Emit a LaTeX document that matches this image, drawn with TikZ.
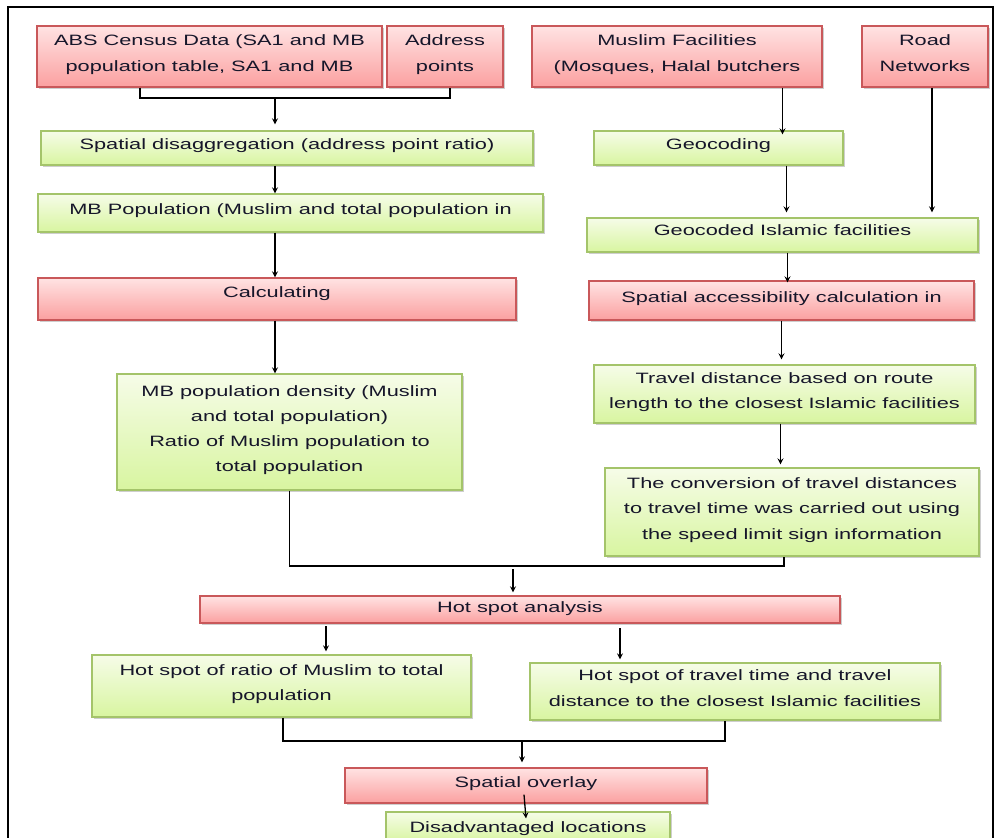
\documentclass[tikz,border=0pt]{standalone}
\usepackage{fontspec}
\setmainfont{Liberation Sans}[FakeStretch=1.45]
\usetikzlibrary{calc, shadows}
\newlength\px
\setlength\px{0.75pt}
\definecolor{redtop}{HTML}{FFE3E3}
\definecolor{redbot}{HTML}{FBA0A0}
\definecolor{redline}{HTML}{C9585A}
\definecolor{greentop}{HTML}{F6FCE8}
\definecolor{greenbot}{HTML}{D8F5A0}
\definecolor{greenline}{HTML}{A4C46A}
\definecolor{textcol}{HTML}{16162A}

\begin{document}
\begin{tikzpicture}[x=\px, y=-\px, >=stealth, line width=1.3\px]
            \tikzset{
                box/.style={rectangle, inner sep=0pt, align=center, text=textcol, text depth=7\px,
                    font=\fontsize{11.25pt}{18.9pt}\selectfont, line width=1.3\px,
                    drop shadow={shadow xshift=1.5\px, shadow yshift=-2\px, opacity=.35, fill=black!55}},
                redbox/.style={box, draw=redline, top color=redtop, bottom color=redbot},
                greenbox/.style={box, draw=greenline, top color=greentop, bottom color=greenbot},
                size/.style 2 args={minimum width=#1\px, minimum height=#2\px}
            };
            \useasboundingbox (0,0) rectangle (995,838);
            \draw[line width=2\px] (8,7) rectangle (993,900);
            % inputs
            \node[redbox, size={345}{61}] (abs) at (209.5,56.5) {ABS Census Data (SA1 and MB\\population table, SA1 and MB};
            \node[redbox, size={116}{61}] (addr) at (445,56.5) {Address\\points};
            \node[redbox, size={290}{61}] (muslim) at (677,56.5) {Muslim Facilities\\(Mosques, Halal butchers};
            \node[redbox, size={126}{61}] (road) at (925,56.5) {Road\\Networks};
            % left branch
            \node[greenbox, size={492}{34}] (disagg) at (287,148) {Spatial disaggregation (address point ratio)};
            \node[greenbox, size={505}{38}] (mbpop) at (290.5,213) {MB Population (Muslim and total population in};
            \node[redbox, size={478}{42}] (calc) at (277,299) {\raisebox{6\px}{Calculating}};
            \node[greenbox, size={345}{116}] (density) at (289.5,432) {MB population density (Muslim\\and total population)\\Ratio of Muslim population to\\total population};
            % right branch
            \node[greenbox, size={249}{34}] (geocod) at (718.5,148) {Geocoding};
            \node[greenbox, size={391}{34}, text depth=10\px] (geoisl) at (782.5,235) {Geocoded Islamic facilities};
            \node[redbox, size={385}{39}] (spatacc) at (781.5,300.5) {Spatial accessibility calculation in};
            \node[greenbox, size={381}{58}] (travel) at (784.5,394) {Travel distance based on route\\length to the closest Islamic facilities};
            \node[greenbox, size={374}{88}] (convert) at (792,512) {The conversion of travel distances\\to travel time was carried out using\\the speed limit sign information};
            % hot spots
            \node[redbox, size={640}{27}, text depth=4\px] (hotspot) at (520,609.5) {Hot spot analysis};
            \node[greenbox, size={379}{62}] (hsratio) at (281.5,686) {Hot spot of ratio of Muslim to total\\population};
            \node[greenbox, size={410}{57}] (hstravel) at (735,691.5) {Hot spot of travel time and travel\\distance to the closest Islamic facilities};
            \node[redbox, size={362}{35}] (overlay) at (526,785.5) {Spatial overlay};
            \node[greenbox, size={284}{30}, text depth=0pt] (disadv) at (528,827) {Disadvantaged locations};
            % junction points
            \coordinate (jA) at (140,98);
            \coordinate (jB) at (450,98);
            \coordinate (jC) at (275,98);
            \coordinate (jE) at (784,566);
            \coordinate (jF) at (513,569);
            \coordinate (jH) at (725,741);
            \coordinate (jI) at (522,741);
            \coordinate (xR) at (326,626);
            \coordinate (xT) at (620,628);
            % connectors
            \draw (abs.south -| jA) -- (jA) -- (jB) -- (addr.south -| jB);
            \draw[->, shorten >=6\px] (jC) -- (disagg.north -| jC);
            \draw[->] (disagg.south -| jC) -- (mbpop.north -| jC);
            \draw[->] (mbpop.south -| jC) -- (calc.north -| jC);
            \draw[->] (calc.south -| jC) -- (density.north -| jC);
            \draw[->] (muslim.south -| geoisl.north) -- ([yshift=-4\px]geocod.north -| geoisl.north);
            \draw[->, shorten >=5\px] ([xshift=4\px]geocod.south -| geoisl.north) -- ([xshift=4\px]geoisl.north);
            \draw[->, shorten >=5\px] ([xshift=7\px]road.south) -- ([xshift=7\px]geoisl.north -| road.south);
            \draw[->] ([xshift=5\px]geoisl.south) -- ([xshift=5\px, yshift=-2\px]spatacc.north -| geoisl.south);
            \draw[->, shorten >=5\px] (spatacc.south) -- (travel.north -| spatacc.south);
            \draw[->, shorten >=3\px] ([xshift=-4\px]travel.south) -- ([xshift=-4\px]convert.north -| travel.south);
            \draw (density.south) |- (jE) -- (convert.south -| jE);
            \draw[->, shorten >=3\px] (jF) -- (hotspot.north -| jF);
            \draw[->, shorten >=3\px] (xR) -- (hsratio.north -| xR);
            \draw[->, shorten >=3\px] (xT) -- (hstravel.north -| xT);
            \draw ([xshift=1.5\px]hsratio.south) |- (jH) -- (hstravel.south -| jH);
            \draw[->, shorten >=5\px] (jI) -- (overlay.north -| jI);
            \draw[->] ($(overlay.south)+(-2,-9)$) -- ($(disadv.north)+(-2,7)$);
        \end{tikzpicture}
\end{document}
